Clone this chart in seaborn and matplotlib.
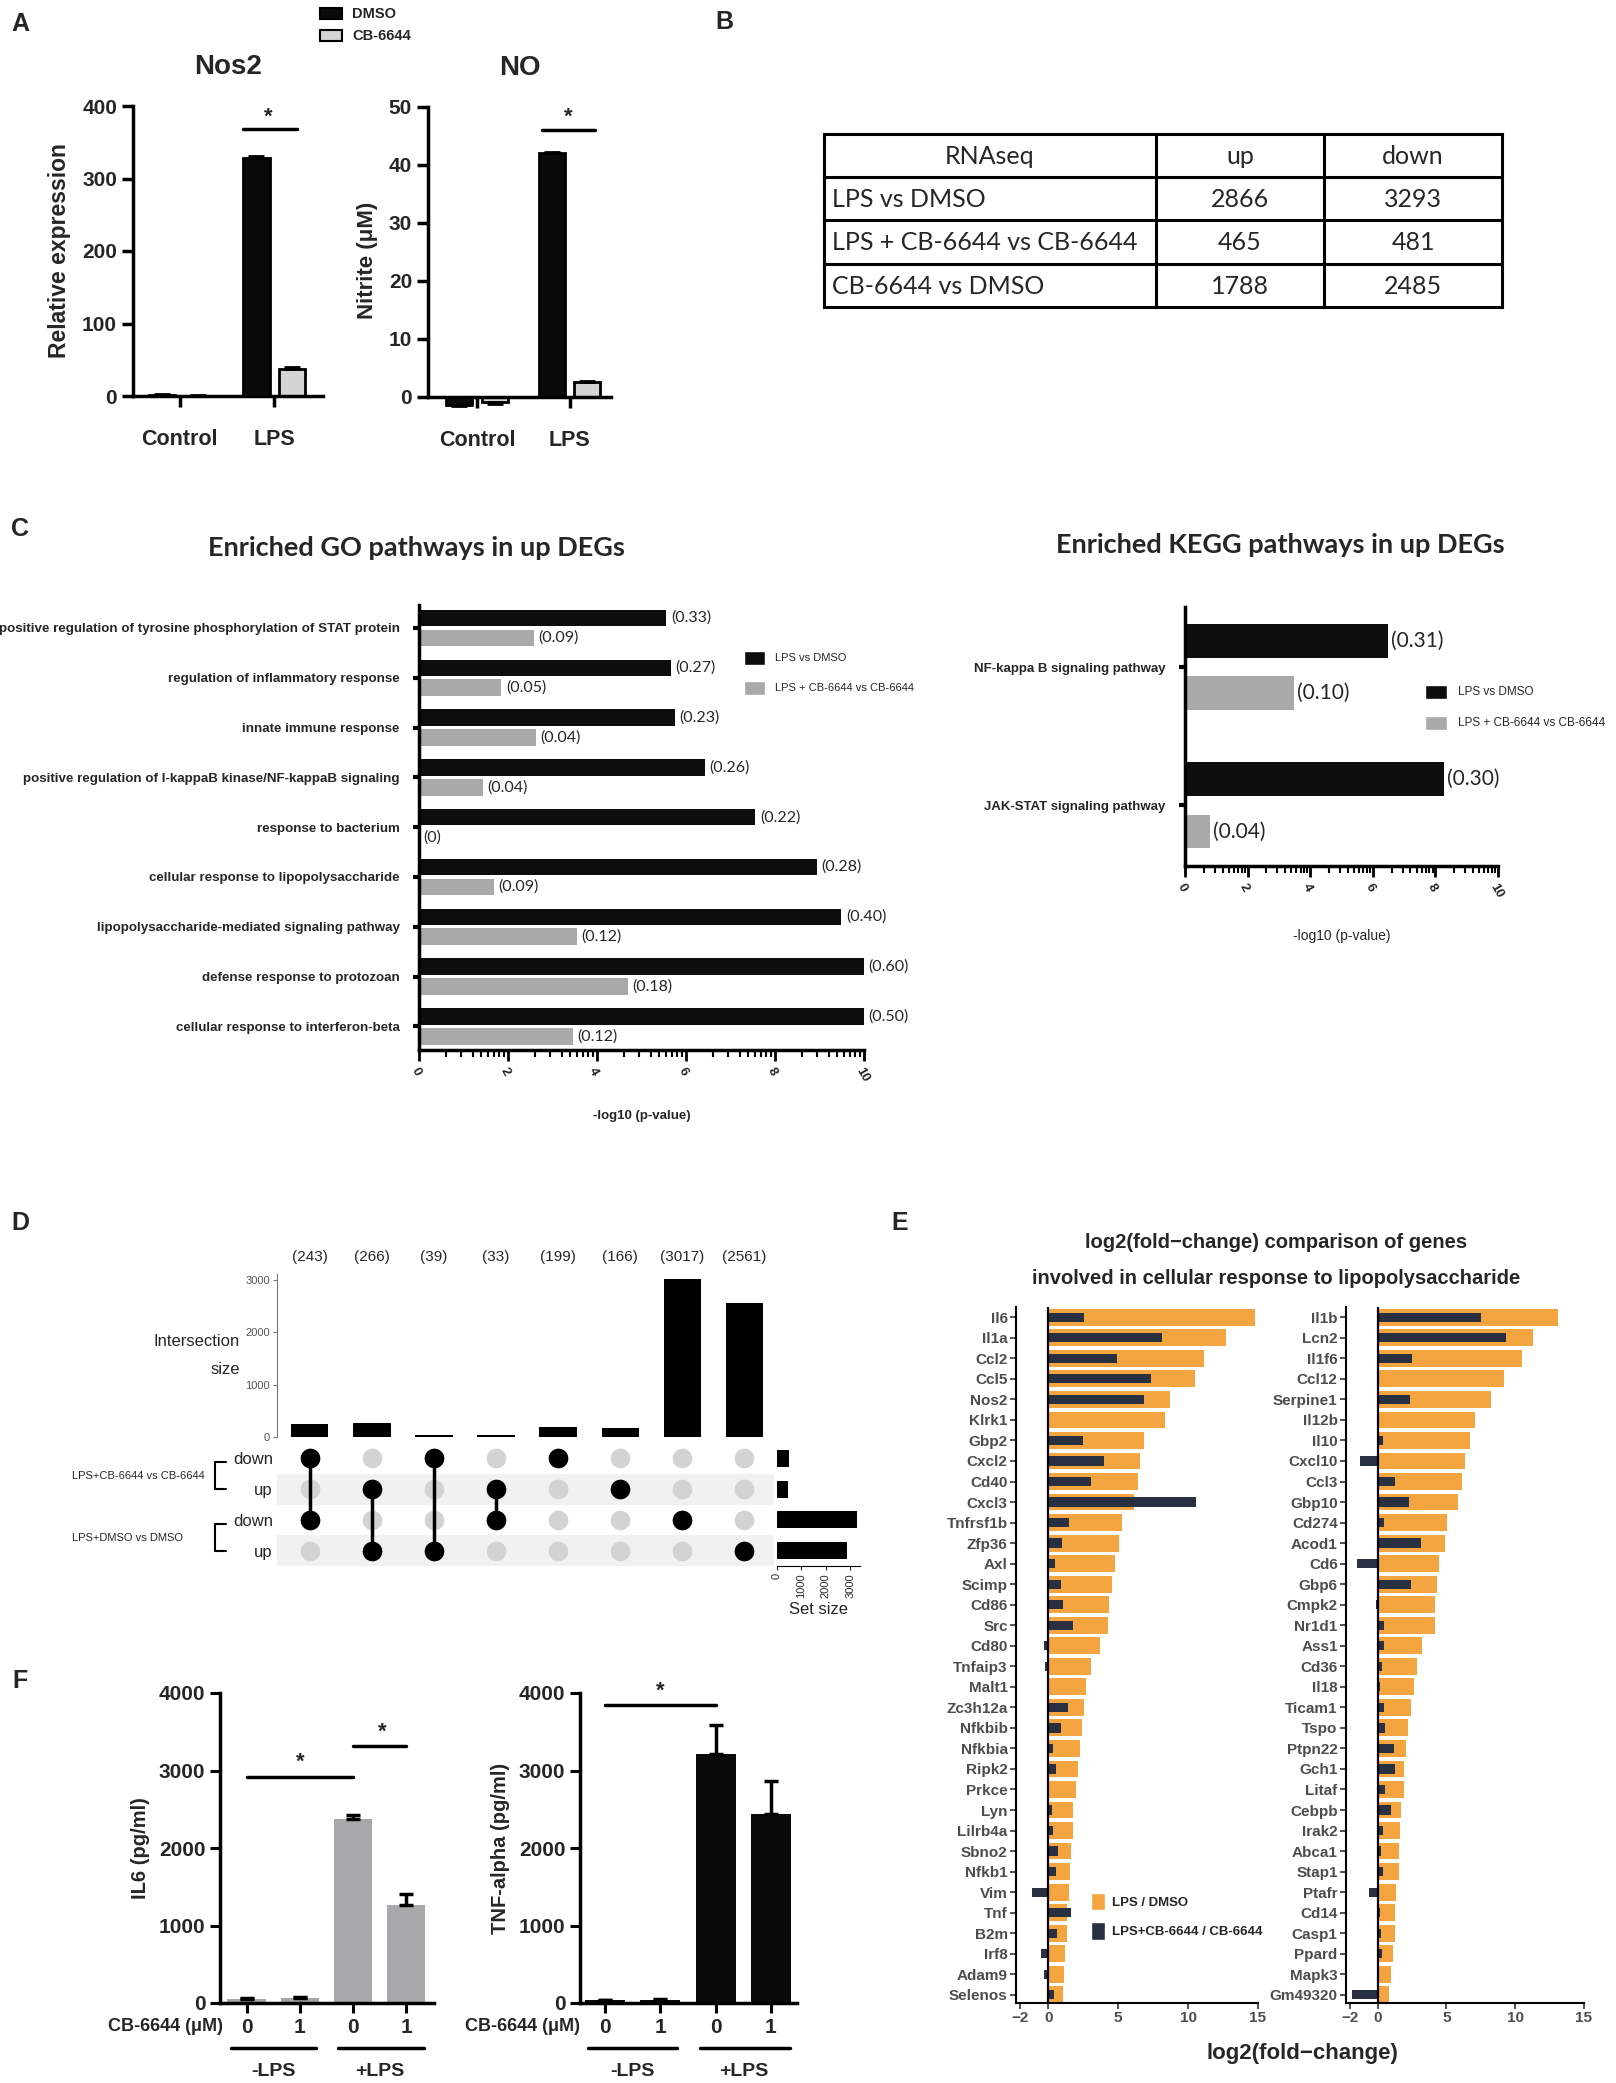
import numpy as np
import pandas as pd
import matplotlib
matplotlib.use("Agg")
import matplotlib.pyplot as plt
import matplotlib.transforms as mtransforms
import seaborn as sns
from matplotlib.patches import Patch, Rectangle
from matplotlib.lines import Line2D

# ---------------- data ----------------
# A: order Control-DMSO, Control-CB, LPS-DMSO, LPS-CB
a_groups = ["Control", "LPS"]
a_treatments = ["DMSO", "CB-6644"]
nos2_mean = [2.0, 0.5, 328.0, 37.0]
nos2_err = [0.5, 0.2, 3.5, 3.5]
no_mean = [-1.4, -0.9, 42.0, 2.5]
no_err = [0.2, 0.3, 0.2, 0.2]

# B: RNAseq DEG table
b_header = ["RNAseq", "up", "down"]
b_comparisons = ["LPS vs DMSO", "LPS + CB-6644 vs CB-6644", "CB-6644 vs DMSO"]
b_up = [2866, 465, 1788]
b_down = [3293, 481, 2485]

# C: enrichment (-log10 p) and ratios
c_series = ["LPS vs DMSO", "LPS + CB-6644 vs CB-6644"]
go_terms = [
    "positive regulation of tyrosine phosphorylation of STAT protein",
    "regulation of inflammatory response",
    "innate immune response",
    "positive regulation of I-kappaB kinase/NF-kappaB signaling",
    "response to bacterium",
    "cellular response to lipopolysaccharide",
    "lipopolysaccharide-mediated signaling pathway",
    "defense response to protozoan",
    "cellular response to interferon-beta",
]
go_lps = [5.56, 5.66, 5.75, 6.42, 7.56, 8.94, 9.49, 10.0, 10.0]
go_cb = [2.58, 1.85, 2.62, 1.43, 0.0, 1.69, 3.54, 4.70, 3.45]
go_lps_ratio = ["(0.33)", "(0.27)", "(0.23)", "(0.26)", "(0.22)", "(0.28)", "(0.40)", "(0.60)", "(0.50)"]
go_cb_ratio = ["(0.09)", "(0.05)", "(0.04)", "(0.04)", "(0)", "(0.09)", "(0.12)", "(0.18)", "(0.12)"]
kegg_terms = ["NF-kappa B signaling pathway", "JAK-STAT signaling pathway"]
kegg_lps = [6.49, 8.28]
kegg_cb = [3.49, 0.81]
kegg_lps_ratio = ["(0.31)", "(0.30)"]
kegg_cb_ratio = ["(0.10)", "(0.04)"]

# D: upset plot
d_sets = ["down", "up", "down", "up"]
d_groups = ["LPS+CB-6644 vs CB-6644", "LPS+DMSO vs DMSO"]
d_set_sizes = [481, 465, 3293, 2866]
d_inter_sizes = [243, 266, 39, 33, 199, 166, 3017, 2561]
d_members = [[0, 2], [1, 3], [0, 3], [1, 2], [0], [1], [2], [3]]

# E: log2 fold changes
e_genes_left = ["Il6", "Il1a", "Ccl2", "Ccl5", "Nos2", "Klrk1", "Gbp2", "Cxcl2", "Cd40", "Cxcl3",
                "Tnfrsf1b", "Zfp36", "Axl", "Scimp", "Cd86", "Src", "Cd80", "Tnfaip3", "Malt1",
                "Zc3h12a", "Nfkbib", "Nfkbia", "Ripk2", "Prkce", "Lyn", "Lilrb4a", "Sbno2", "Nfkb1",
                "Vim", "Tnf", "B2m", "Irf8", "Adam9", "Selenos"]
e_lps_left = [14.78, 12.68, 11.16, 10.5, 8.74, 8.33, 6.84, 6.55, 6.4, 6.11,
              5.29, 5.05, 4.81, 4.57, 4.37, 4.28, 3.7, 3.04, 2.73,
              2.58, 2.42, 2.25, 2.1, 2.0, 1.81, 1.74, 1.62, 1.57,
              1.5, 1.38, 1.33, 1.23, 1.14, 1.06]
e_cb_left = [2.54, 8.14, 4.95, 7.32, 6.84, 0.0, 2.46, 3.99, 3.07, 10.58,
             1.52, 0.97, 0.46, 0.89, 1.04, 1.74, -0.29, -0.25, 0.0,
             1.45, 0.92, 0.36, 0.56, 0.0, 0.24, 0.31, 0.72, 0.56,
             -1.16, 1.62, 0.6, -0.48, -0.29, 0.41]
e_genes_right = ["Il1b", "Lcn2", "Il1f6", "Ccl12", "Serpine1", "Il12b", "Il10", "Cxcl10", "Ccl3",
                 "Gbp10", "Cd274", "Acod1", "Cd6", "Gbp6", "Cmpk2", "Nr1d1", "Ass1", "Cd36", "Il18",
                 "Ticam1", "Tspo", "Ptpn22", "Gch1", "Litaf", "Cebpb", "Irak2", "Abca1", "Stap1",
                 "Ptafr", "Cd14", "Casp1", "Ppard", "Mapk3", "Gm49320"]
e_lps_right = [13.09, 11.27, 10.48, 9.2, 8.24, 7.09, 6.74, 6.35, 6.16,
               5.83, 5.06, 4.9, 4.49, 4.35, 4.18, 4.16, 3.25, 2.84, 2.65,
               2.44, 2.2, 2.08, 1.93, 1.89, 1.7, 1.62, 1.55, 1.53,
               1.31, 1.27, 1.24, 1.15, 1.0, 0.79]
e_cb_right = [7.52, 9.31, 2.51, 0.0, 2.34, 0.0, 0.36, -1.27, 1.27,
              2.27, 0.43, 3.15, -1.48, 2.46, -0.12, 0.48, 0.43, 0.31, 0.19,
              0.48, 0.55, 1.19, 1.27, 0.55, 0.96, 0.36, 0.24, 0.41,
              -0.64, 0.17, 0.24, 0.33, 0.0, -1.86]
e_series = ["LPS / DMSO", "LPS+CB-6644 / CB-6644"]

# F: cytokines, order -LPS 0, -LPS 1, +LPS 0, +LPS 1
f_dose = ["0", "1", "0", "1"]
f_lps = ["-LPS", "+LPS"]
il6_mean = [55, 65, 2370, 1270]
il6_err = [10, 10, 50, 140]
tnf_mean = [40, 45, 3210, 2440]
tnf_err = [5, 5, 380, 425]

# ---------------- style ----------------
sns.set_style("ticks")
plt.rcParams["font.family"] = ["Liberation Sans", "DejaVu Sans"]
CAL = ["Lato", "DejaVu Sans"]
a_colors = {"DMSO": "#0a0a0a", "CB-6644": "#d4d4d4"}
c_colors = ["#0d0d0d", "#a9a9a9"]
e_orange = "#F5A540"
e_navy = "#283042"

W, H = 1616, 2083
fig = plt.figure(figsize=(W / 100, H / 100), dpi=100)


def box(x0, y0, x1, y1):
    return [x0 / W, 1 - y1 / H, (x1 - x0) / W, (y1 - y0) / H]


def ftext(x, y, s, **kw):
    return fig.text(x / W, 1 - y / H, s, **kw)


def frect(x0, y0, x1, y1, **kw):
    fig.add_artist(Rectangle((x0 / W, 1 - y1 / H), (x1 - x0) / W, (y1 - y0) / H,
                             transform=fig.transFigure, **kw))


def add_errorbars(ax, means, errs, lw, capsize):
    bars = sorted(ax.patches, key=lambda p: p.get_x() + p.get_width() / 2)
    for p, m, e in zip(bars, means, errs):
        xc = p.get_x() + p.get_width() / 2
        lo, hi = (e, 0) if m < 0 else (0, e)
        ax.errorbar(xc, m, yerr=[[lo], [hi]], fmt="none", ecolor="black",
                    elinewidth=lw, capsize=capsize, capthick=lw, zorder=1)


def bold_ticks(ax):
    for lbl in ax.get_xticklabels() + ax.get_yticklabels():
        lbl.set_fontweight("bold")


for letter, (lx, ly) in zip("ABCDEF", [(20, 24), (724, 22), (20, 529), (20, 1223), (900, 1223), (20, 1681)]):
    ftext(lx, ly, letter, fontsize=18, fontweight="bold", ha="center", va="center")

# ---------------- A ----------------
def pair_bars(ax, means, errs):
    df = pd.DataFrame({"group": np.repeat(a_groups, 2), "treatment": a_treatments * 2, "value": means})
    sns.barplot(data=df, x="group", y="value", hue="treatment", hue_order=a_treatments,
                palette=a_colors, edgecolor="black", linewidth=2, width=0.76, gap=0.26,
                saturation=1, errorbar=None, legend=False, ax=ax)
    add_errorbars(ax, means, errs, 2, 6)
    sns.despine(ax=ax)
    for s in ("left", "bottom"):
        ax.spines[s].set_linewidth(2.5)
        ax.spines[s].set_color("black")
    ax.tick_params(axis="y", length=8, width=2.5, labelsize=15, color="black")
    ax.tick_params(axis="x", length=8, width=2.5, labelsize=15.5, pad=16, color="black")
    ax.set_xlabel("")


ax_nos2 = fig.add_axes(box(133, 106, 323, 396))
pair_bars(ax_nos2, nos2_mean, nos2_err)
ax_nos2.set_xlim(-0.495, 1.517)
ax_nos2.set_ylim(0, 400)
ax_nos2.set_yticks([0, 100, 200, 300, 400])
ax_nos2.set_ylabel("Relative expression", fontsize=16.5, fontweight="bold", labelpad=8)
ax_nos2.set_title("Nos2", fontsize=20, fontweight="bold", pad=23)
ax_nos2.plot([0.674, 1.241], [368, 368], color="black", lw=2.5, clip_on=False)
ax_nos2.text(0.94, 370, "*", ha="center", va="bottom", fontsize=16, fontweight="bold")
bold_ticks(ax_nos2)

ax_no = fig.add_axes(box(428, 107, 611, 414))
pair_bars(ax_no, no_mean, no_err)
ax_no.set_xlim(-0.53, 1.447)
ax_no.set_ylim(-3, 50)
ax_no.spines["bottom"].set_position(("data", 0))
ax_no.spines["left"].set_bounds(0, 50)
ax_no.set_yticks([0, 10, 20, 30, 40, 50])
ax_no.set_ylabel("Nitrite (μM)", fontsize=16, fontweight="bold", labelpad=8)
ax_no.set_title("NO", fontsize=20, fontweight="bold", pad=23)
ax_no.plot([0.70, 1.279], [46.1, 46.1], color="black", lw=2.5, clip_on=False)
ax_no.text(0.99, 46.5, "*", ha="center", va="bottom", fontsize=16, fontweight="bold")
bold_ticks(ax_no)

frect(320, 8, 342, 19, facecolor=a_colors["DMSO"], edgecolor="black", lw=1.5)
frect(320, 30, 342, 41, facecolor=a_colors["CB-6644"], edgecolor="black", lw=1.5)
ftext(352, 13.5, a_treatments[0], fontsize=10.5, fontweight="bold", va="center")
ftext(352, 35.5, a_treatments[1], fontsize=10.5, fontweight="bold", va="center")

# ---------------- B ----------------
ax_b = fig.add_axes(box(824, 134, 1502, 307))
col_edges = [0, 332, 500, 678]
ax_b.set_xlim(0, 678)
ax_b.set_ylim(4, 0)
ax_b.axis("off")
for y in range(5):
    ax_b.plot([0, 678], [y, y], color="black", lw=2.2, clip_on=False, solid_capstyle="projecting")
for x in col_edges:
    ax_b.plot([x, x], [0, 4], color="black", lw=2.2, clip_on=False, solid_capstyle="projecting")
centers = [(col_edges[i] + col_edges[i + 1]) / 2 for i in range(3)]
for c, h in zip(centers, b_header):
    ax_b.text(c, 0.52, h, ha="center", va="center", fontsize=18, family=CAL)
for r, (name, u, d) in enumerate(zip(b_comparisons, b_up, b_down), start=1):
    ax_b.text(8, r + 0.52, name, ha="left", va="center", fontsize=18, family=CAL)
    ax_b.text(centers[1], r + 0.52, str(u), ha="center", va="center", fontsize=18, family=CAL)
    ax_b.text(centers[2], r + 0.52, str(d), ha="center", va="center", fontsize=18, family=CAL)

# ---------------- C ----------------
minor_log = [2 * k + 2 * np.log10(j) for k in range(5) for j in range(2, 10)]


def enrich_axes(rect, terms, lps, cb, lps_lab, cb_lab, ylim, width, gap, lab_size, term_size):
    ax = fig.add_axes(box(*rect))
    df = pd.DataFrame({"term": terms * 2, "comparison": np.repeat(c_series, len(terms)),
                       "value": lps + cb})
    sns.barplot(data=df, y="term", x="value", hue="comparison", order=terms, hue_order=c_series,
                palette=dict(zip(c_series, c_colors)), orient="h", width=width, gap=gap,
                saturation=1, linewidth=0, errorbar=None, legend=False, ax=ax)
    labels = [lps_lab, cb_lab]
    for p in ax.patches:
        yc = p.get_y() + p.get_height() / 2
        i = int(round(yc))
        h = 0 if yc < i else 1
        ax.text(p.get_width() + 0.1, yc, labels[h][i], ha="left", va="center",
                fontsize=lab_size, family=CAL, clip_on=False)
    ax.set_xlim(0, 10)
    ax.set_ylim(*ylim)
    sns.despine(ax=ax)
    for s in ("left", "bottom"):
        ax.spines[s].set_linewidth(2.5)
        ax.spines[s].set_color("black")
    ax.set_xticks(range(0, 11, 2))
    ax.set_xticks(minor_log, minor=True)
    ax.tick_params(axis="x", which="major", length=8, width=2, labelsize=9.5, color="black")
    ax.tick_params(axis="x", which="minor", length=5, width=1.5, color="black")
    ax.tick_params(axis="y", length=4, width=3, labelsize=term_size, pad=10, color="black")
    for lbl in ax.get_xticklabels():
        lbl.set_rotation(-60)
        lbl.set_ha("left")
        lbl.set_rotation_mode("anchor")
    ax.set_ylabel("")
    bold_ticks(ax)
    return ax


ax_go = enrich_axes((419, 605, 864, 1050), go_terms, go_lps, go_cb, go_lps_ratio, go_cb_ratio,
                    (8.475, -0.46), 0.8, 0.175, 11.5, 9.6)
ax_go.set_xlabel("-log10 (p-value)", fontsize=9.5, fontweight="bold", labelpad=18)
ftext(416, 548, "Enriched GO pathways in up DEGs", fontsize=19.5, fontweight="bold",
      family=CAL, ha="center", va="center")
frect(744, 651, 765, 665, facecolor=c_colors[0])
frect(744, 681, 765, 695, facecolor=c_colors[1])
ftext(775, 658, c_series[0], fontsize=8, va="center")
ftext(775, 688, c_series[1], fontsize=8, va="center")

ax_kegg = enrich_axes((1185, 607, 1498, 866), kegg_terms, kegg_lps, kegg_cb, kegg_lps_ratio,
                      kegg_cb_ratio, (1.44, -0.435), 0.76, 0.355, 15, 9.5)
ax_kegg.set_xlabel("-log10 (p-value)", fontsize=10, labelpad=20)
ftext(1280, 545, "Enriched KEGG pathways in up DEGs", fontsize=19.5, fontweight="bold",
      family=CAL, ha="center", va="center")
frect(1425, 685, 1447, 699, facecolor=c_colors[0])
frect(1425, 716, 1447, 730, facecolor=c_colors[1])
ftext(1458, 692, c_series[0], fontsize=8.5, va="center")
ftext(1458, 723, c_series[1], fontsize=8.5, va="center")

# ---------------- D ----------------
ax_d1 = fig.add_axes(box(277, 1274, 774, 1437))
sns.barplot(x=np.arange(len(d_inter_sizes)), y=d_inter_sizes, color="black", width=0.6,
            saturation=1, linewidth=0, errorbar=None, ax=ax_d1)
ax_d1.set_xlim(-0.53, 7.48)
ax_d1.set_ylim(0, 3115)
ax_d1.set_xticks([])
ax_d1.set_yticks([0, 1000, 2000, 3000])
for s in ("top", "right", "bottom"):
    ax_d1.spines[s].set_visible(False)
ax_d1.spines["left"].set(color="#777777", linewidth=0.8)
ax_d1.tick_params(axis="y", length=3, width=0.8, color="#777777", labelsize=8,
                  labelcolor="#555555", pad=2)
for i, v in enumerate(d_inter_sizes):
    ax_d1.text(i, 3440, f"({v})", ha="center", va="center", fontsize=11)
ftext(240, 1342, "Intersection", fontsize=12, ha="right", va="center")
ftext(240, 1370, "size", fontsize=12, ha="right", va="center")

ax_d2 = fig.add_axes(box(277, 1443, 774, 1566))
for r in (1, 3):
    ax_d2.axhspan(r - 0.5, r + 0.5, color="#f1f1f1", zorder=0, lw=0)
grid = pd.DataFrame([(c, r) for c in range(len(d_members)) for r in range(len(d_sets))],
                    columns=["col", "row"])
grid["member"] = [r in d_members[c] for c, r in zip(grid["col"], grid["row"])]
sns.scatterplot(data=grid, x="col", y="row", color="#d3d3d3", s=200, linewidth=0, ax=ax_d2, zorder=2)
for c, rows in enumerate(d_members):
    if len(rows) > 1:
        ax_d2.plot([c, c], [min(rows), max(rows)], color="black", lw=2.5, zorder=3)
sns.scatterplot(data=grid[grid["member"]], x="col", y="row", color="black", s=200, linewidth=0,
                ax=ax_d2, zorder=4)
ax_d2.set_xlim(-0.53, 7.48)
ax_d2.set_ylim(3.5, -0.5)
ax_d2.set_xticks([])
ax_d2.set_yticks(range(len(d_sets)))
ax_d2.set_yticklabels(d_sets, fontsize=12)
ax_d2.tick_params(length=0, pad=3)
ax_d2.set_xlabel("")
ax_d2.set_ylabel("")
for s in ax_d2.spines.values():
    s.set_visible(False)

bt = mtransforms.blended_transform_factory(fig.transFigure, ax_d2.transData)
for g, (r0, r1) in enumerate([(0, 1), (2, 3)]):
    x0, x1 = 215 / W, 226 / W
    ax_d2.add_line(Line2D([x1, x0, x0, x1], [r0 + 0.12, r0 + 0.12, r1, r1], transform=bt,
                          color="black", lw=1.5, clip_on=False))
    ax_d2.text(72 / W, (r0 + r1) / 2 + 0.08, d_groups[g], transform=bt, fontsize=8,
               ha="left", va="center")

ax_d3 = fig.add_axes(box(777, 1443, 860, 1566))
sns.barplot(x=d_set_sizes, y=np.arange(len(d_set_sizes)), orient="h", color="black", width=0.55,
            saturation=1, linewidth=0, errorbar=None, ax=ax_d3)
ax_d3.set_ylim(3.5, -0.5)
ax_d3.set_xlim(0, 3400)
ax_d3.set_yticks([])
ax_d3.set_xticks([0, 1000, 2000, 3000])
ax_d3.tick_params(axis="x", length=3, width=0.8, labelsize=8, labelrotation=90, pad=2)
for s in ("top", "right", "left"):
    ax_d3.spines[s].set_visible(False)
ax_d3.spines["bottom"].set(color="black", linewidth=0.8)
ax_d3.set_xlabel("Set size", fontsize=12, labelpad=3)
ax_d3.set_ylabel("")

# ---------------- E ----------------
def fc_axes(rect, genes, lps, cb):
    ax = fig.add_axes(box(*rect))
    df = pd.DataFrame({"gene": genes, "lps": lps, "cb": cb})
    sns.barplot(data=df, y="gene", x="lps", order=genes, color=e_orange, width=0.82,
                saturation=1, linewidth=0, errorbar=None, ax=ax)
    sns.barplot(data=df, y="gene", x="cb", order=genes, color=e_navy, width=0.45,
                saturation=1, linewidth=0, errorbar=None, ax=ax)
    ax.axvline(0, color="black", lw=1.6, zorder=5)
    ax.set_xlim(-2.3, 15)
    ax.set_ylim(33.4, -0.5)
    ax.set_xticks([-2, 0, 5, 10, 15])
    sns.despine(ax=ax)
    for s in ("left", "bottom"):
        ax.spines[s].set_linewidth(1.5)
        ax.spines[s].set_color("black")
    ax.tick_params(axis="both", length=4, width=1.2, color="#333333", labelcolor="#4d4d4d",
                   pad=2)
    ax.tick_params(axis="y", labelsize=11)
    ax.tick_params(axis="x", labelsize=11)
    ax.set_xlabel("")
    ax.set_ylabel("")
    bold_ticks(ax)
    return ax


ax_e1 = fc_axes((1016, 1307, 1258, 2003), e_genes_left, e_lps_left, e_cb_left)
ax_e2 = fc_axes((1346, 1307, 1584, 2003), e_genes_right, e_lps_right, e_cb_right)
ax_e1.legend(handles=[Patch(facecolor=e_orange, label=e_series[0]),
                      Patch(facecolor=e_navy, label=e_series[1])],
             loc="upper left", bbox_to_anchor=(0.27, 0.172), frameon=False,
             prop={"weight": "bold", "size": 9.5}, handlelength=1.1, handleheight=1.7,
             labelspacing=0.9, handletextpad=0.5, borderpad=0.2)
ftext(1276, 1243, "log2(fold\u2212change) comparison of genes", fontsize=14.5,
      fontweight="bold", ha="center", va="center")
ftext(1276, 1279, "involved in cellular response to lipopolysaccharide", fontsize=14.5,
      fontweight="bold", ha="center", va="center")
ftext(1302, 2053, "log2(fold\u2212change)", fontsize=16, fontweight="bold", ha="center", va="center")

# ---------------- F ----------------
def cyto_axes(rect, means, errs, color, ylabel, xlim):
    ax = fig.add_axes(box(*rect))
    sns.barplot(x=np.arange(len(means)), y=means, color=color, width=0.72, saturation=1,
                linewidth=0, errorbar=None, ax=ax)
    add_errorbars(ax, means, errs, 2.5, 5)
    ax.set_xlim(*xlim)
    ax.set_ylim(0, 4000)
    ax.set_yticks([0, 1000, 2000, 3000, 4000])
    ax.set_xticks(range(len(means)))
    ax.set_xticklabels(f_dose)
    sns.despine(ax=ax)
    for s in ("left", "bottom"):
        ax.spines[s].set_linewidth(2.5)
        ax.spines[s].set_color("black")
    ax.tick_params(axis="both", length=7, width=2.2, labelsize=15, color="black")
    ax.set_ylabel(ylabel, fontsize=14.5, fontweight="bold", labelpad=6)
    bold_ticks(ax)
    bt = mtransforms.blended_transform_factory(ax.transData, ax.transAxes)
    ax.text(-0.45, -0.077, "CB-6644 (μM)", transform=bt, ha="right", va="center",
            fontsize=13, fontweight="bold")
    for k, (x0, x1) in enumerate([(-0.3, 1.3), (1.72, 3.34)]):
        ax.add_line(Line2D([x0, x1], [-0.145, -0.145], transform=bt, color="black", lw=2.5,
                           clip_on=False))
        ax.text(0.5 + 2 * k, -0.222, f_lps[k], transform=bt, ha="center", va="center",
                fontsize=14, fontweight="bold")
    return ax


ax_il6 = cyto_axes((220, 1693, 434, 2003), il6_mean, il6_err, "#a8a8ab", "IL6 (pg/ml)", (-0.5, 3.52))
ax_il6.plot([0, 2], [2922, 2922], color="black", lw=2.5)
ax_il6.text(1, 2970, "*", ha="center", va="bottom", fontsize=16, fontweight="bold")
ax_il6.plot([2, 3], [3316, 3316], color="black", lw=2.5)
ax_il6.text(2.55, 3360, "*", ha="center", va="bottom", fontsize=16, fontweight="bold")

ax_tnf = cyto_axes((580, 1693, 797, 2003), tnf_mean, tnf_err, "#0a0a0a", "TNF-alpha (pg/ml)", (-0.45, 3.47))
ax_tnf.plot([0, 2], [3851, 3851], color="black", lw=2.5, clip_on=False)
ax_tnf.text(1, 3890, "*", ha="center", va="bottom", fontsize=16, fontweight="bold")

fig.savefig("out.png", dpi=100)
